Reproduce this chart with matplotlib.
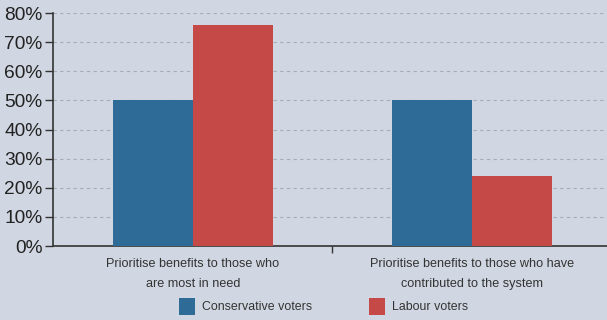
import matplotlib
matplotlib.use("Agg")
import matplotlib.pyplot as plt
from matplotlib.patches import Patch
import numpy as np

categories = ["Prioritise benefits to those who\nare most in need",
              "Prioritise benefits to those who have\ncontributed to the system"]
series_names = ["Conservative voters", "Labour voters"]
conservative = [50, 50]
labour = [76, 24]
y_ticks = [0, 10, 20, 30, 40, 50, 60, 70, 80]
y_labels = ["0%", "10%", "20%", "30%", "40%", "50%", "60%", "70%", "80%"]

bg = "#d1d7e2"
blue = "#2f6b97"
red = "#c54a47"

plt.rcParams["font.family"] = ["Liberation Sans", "DejaVu Sans"]

fig = plt.figure(figsize=(6.07, 3.2), dpi=100, facecolor=bg)
ax = fig.add_axes([0.0881, 0.231, 0.919, 0.728])
ax.set_facecolor(bg)

x = np.arange(len(categories))
w = 0.287
ax.bar(x - w / 2, conservative, width=w, color=blue, zorder=3)
ax.bar(x + w / 2, labour, width=w, color=red, zorder=3)

ax.set_xlim(-0.5, 1.5)
ax.set_ylim(0, 80)
ax.set_yticks(y_ticks)
ax.set_yticklabels(y_labels, fontsize=13.8, color="#222222")
ax.yaxis.grid(True, linestyle=(0, (3, 3)), color="#a8acb4", linewidth=0.8, zorder=0)

ax.set_xticks([0.5])
ax.set_xticklabels([""])
ax.set_xticks(x, minor=True)
ax.set_xticklabels(categories, minor=True, fontsize=9.1, color="#333333", linespacing=1.85)
ax.tick_params(axis="x", which="minor", length=0, pad=8.5)
ax.tick_params(axis="x", which="major", length=5, width=1, color="#333333", direction="out")
ax.tick_params(axis="y", length=6, width=1, color="#333333", pad=2)

for s in ["top", "right"]:
    ax.spines[s].set_visible(False)
for s in ["left", "bottom"]:
    ax.spines[s].set_color("#333333")
    ax.spines[s].set_linewidth(1.2)

handles = [Patch(facecolor=blue), Patch(facecolor=red)]
fig.legend(handles, series_names, loc="lower left", bbox_to_anchor=(0.277, -0.018),
           ncol=2, frameon=False, fontsize=8.9, handlelength=1.3, handleheight=1.75,
           columnspacing=4.6, handletextpad=0.55, labelcolor="#333333")

fig.savefig("out.png", dpi=100, facecolor=bg)
